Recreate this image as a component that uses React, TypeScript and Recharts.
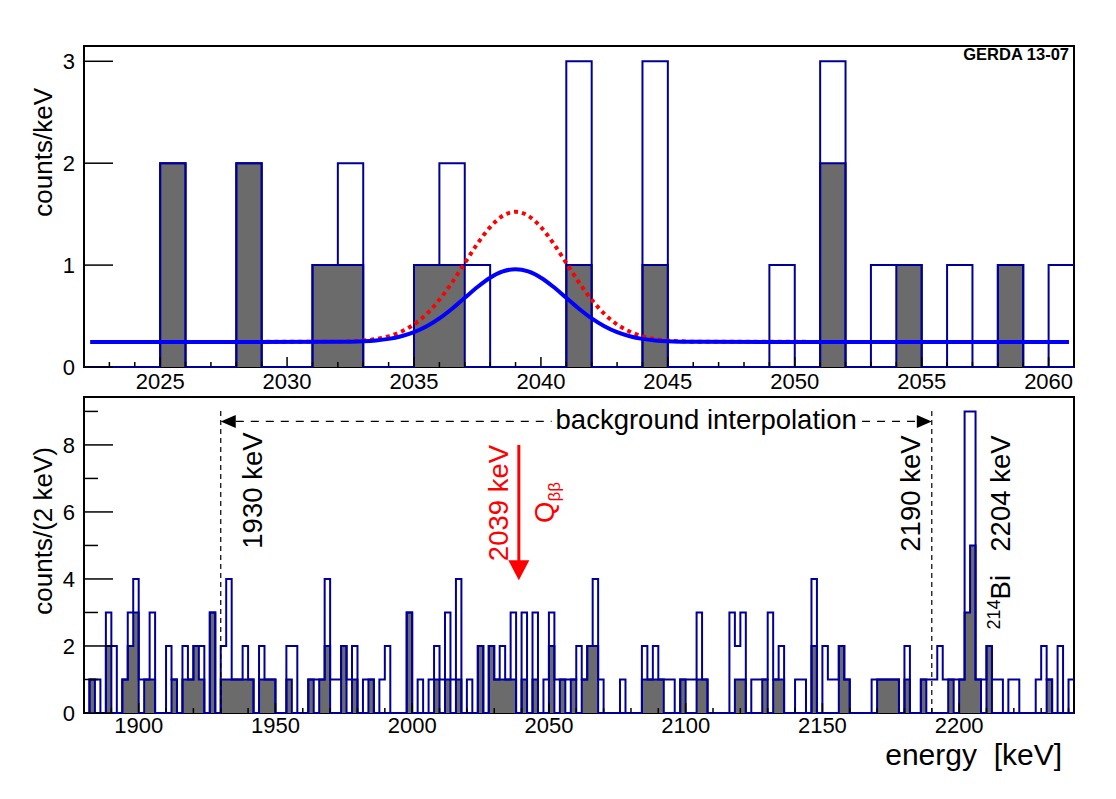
import React from 'react';
import {
  ComposedChart,
  Line,
  Area,
  XAxis,
  YAxis,
  ReferenceArea,
  ReferenceLine,
  ReferenceDot,
} from 'recharts';

const FONT = '"Liberation Sans", Arial, Helvetica, sans-serif';
const NAVY = '#000099';
const GREY = '#6b6b6b';
const NOTE = 27.5;

// upper panel: 1 keV bins from 2022 keV
const zoomStart = 2022;
const zoomOpen = [
  0, 0, 0, 2, 0, 0, 2, 0, 0, 1, 2, 0, 0, 1, 2, 1, 0, 0, 0, 3,
  0, 0, 3, 0, 0, 0, 0, 1, 0, 3, 0, 1, 1, 0, 1, 0, 1, 0, 1,
];
const zoomFilled = [
  0, 0, 0, 2, 0, 0, 2, 0, 0, 1, 1, 0, 0, 1, 1, 0, 0, 0, 0, 1,
  0, 0, 1, 0, 0, 0, 0, 0, 0, 2, 0, 0, 1, 0, 0, 0, 1, 0, 0,
];

// fit curves
const curveX = [
  2022.25, 2032, 2032.5, 2033, 2033.5, 2034, 2034.5, 2035, 2035.5, 2036, 2036.5,
  2037, 2037.5, 2038, 2038.5, 2039, 2039.5, 2040, 2040.5, 2041, 2041.5, 2042,
  2042.5, 2043, 2043.5, 2044, 2044.5, 2045, 2045.5, 2046, 2060.8,
];
const fitY = [
  0.245, 0.247, 0.249, 0.253, 0.261, 0.276, 0.302, 0.342, 0.4, 0.477, 0.572,
  0.679, 0.785, 0.876, 0.938, 0.96, 0.938, 0.876, 0.785, 0.679, 0.572, 0.477,
  0.4, 0.342, 0.302, 0.276, 0.261, 0.253, 0.249, 0.247, 0.245,
];
const limitY = [
  0.245, 0.248, 0.252, 0.259, 0.274, 0.301, 0.347, 0.418, 0.521, 0.66, 0.83,
  1.02, 1.21, 1.373, 1.484, 1.523, 1.484, 1.373, 1.21, 1.02, 0.83, 0.66,
  0.521, 0.418, 0.347, 0.301, 0.274, 0.259, 0.252, 0.248, 0.245,
];

// lower panel: 2 keV bins from 1880 keV
const wideStart = 1880;
const wideOpen = [
  0, 1, 1, 0, 3, 2, 0, 1, 3, 4, 1, 1, 3, 0, 0, 2, 1, 0, 2, 1,
  2, 2, 0, 3, 0, 2, 4, 1, 1, 2, 1, 0, 2, 1, 1, 0, 0, 2, 2, 0,
  0, 1, 1, 1, 4, 1, 1, 2, 1, 2, 0, 1, 1, 0, 1, 2, 0, 0, 0, 3,
  0, 1, 0, 1, 2, 1, 3, 1, 4, 0, 1, 0, 2, 0, 2, 1, 2, 1, 3, 0,
  3, 0, 3, 0, 1, 3, 1, 1, 1, 1, 2, 1, 2, 4, 1, 0, 0, 0, 1, 0,
  0, 0, 2, 1, 2, 1, 1, 1, 0, 1, 1, 1, 3, 1, 0, 0, 0, 0, 3, 2,
  3, 0, 1, 1, 1, 3, 1, 2, 0, 0, 1, 1, 0, 4, 0, 2, 1, 1, 2, 1,
  0, 0, 0, 0, 1, 1, 1, 1, 1, 0, 2, 0, 0, 1, 1, 1, 2, 1, 1, 1,
  1, 9, 9, 1, 1, 2, 1, 1, 0, 1, 1, 0, 0, 0, 1, 2, 1, 0, 2, 0,
  1,
];
const wideFilled = [
  0, 1, 0, 0, 2, 0, 0, 1, 2, 3, 0, 1, 1, 0, 0, 0, 1, 0, 1, 1,
  2, 1, 0, 3, 0, 1, 1, 1, 1, 1, 1, 0, 1, 1, 1, 0, 0, 1, 0, 0,
  0, 1, 0, 1, 2, 0, 0, 2, 0, 1, 0, 0, 1, 0, 0, 0, 0, 0, 0, 3,
  0, 0, 0, 0, 1, 0, 1, 0, 1, 0, 0, 0, 2, 0, 2, 1, 1, 1, 1, 0,
  1, 0, 1, 0, 0, 2, 0, 1, 0, 1, 0, 1, 2, 2, 0, 0, 0, 0, 0, 0,
  0, 0, 1, 1, 1, 1, 0, 0, 0, 1, 0, 0, 1, 1, 0, 0, 0, 0, 0, 1,
  1, 0, 0, 0, 1, 0, 1, 1, 0, 0, 0, 0, 0, 2, 0, 0, 0, 0, 2, 1,
  0, 0, 0, 0, 0, 1, 1, 1, 1, 0, 1, 0, 0, 1, 0, 0, 0, 0, 1, 0,
  1, 3, 5, 1, 0, 2, 0, 0, 0, 0, 0, 0, 0, 0, 0, 0, 1, 0, 0, 0,
  0,
];

const zoomMajor = [2025, 2030, 2035, 2040, 2045, 2050, 2055, 2060];
const wideMajor = [1900, 1950, 2000, 2050, 2100, 2150, 2200];
const zoomYMajor = [0, 1, 2, 3];
const wideYMajor = [0, 2, 4, 6, 8];

const range = (a: number, b: number, step: number) => {
  const out: number[] = [];
  for (let v = a; v <= b; v += step) out.push(v);
  return out;
};

function histRows(start: number, width: number, open: number[], filled: number[]) {
  const rows = open.map((o, i) => ({ x: start + i * width, open: o, filled: filled[i] }));
  const n = open.length;
  rows.push({ x: start + n * width, open: open[n - 1], filled: filled[n - 1] });
  return rows;
}

const zoomRows = histRows(zoomStart, 1, zoomOpen, zoomFilled);
const wideRows = histRows(wideStart, 2, wideOpen, wideFilled);
const fitRows = curveX.map((x, i) => ({ x, y: fitY[i] }));
const limitRows = curveX.map((x, i) => ({ x, y: limitY[i] }));

// ROOT style ticks: drawn inwards, labels only on major ticks
const makeXTick = (majors: number[], majorLen: number, minorLen: number, gap: number) => (p: any) => {
  const v = p.payload.value;
  const major = majors.includes(v);
  return (
    <g>
      <line x1={p.x} x2={p.x} y1={p.y} y2={p.y - (major ? majorLen : minorLen)} stroke="#000" strokeWidth={1.5} />
      {major && (
        <text x={p.x} y={p.y + gap} textAnchor="middle" fontSize={22} fontFamily={FONT} fill="#000">
          {v}
        </text>
      )}
    </g>
  );
};

const makeYTick = (majors: number[], majorLen: number, minorLen: number) => (p: any) => {
  const v = p.payload.value;
  const major = majors.includes(v);
  return (
    <g>
      <line x1={p.x} x2={p.x + (major ? majorLen : minorLen)} y1={p.y} y2={p.y} stroke="#000" strokeWidth={1.5} />
      {major && (
        <text x={p.x - 9} y={p.y} dy="0.36em" textAnchor="end" fontSize={22} fontFamily={FONT} fill="#000">
          {v}
        </text>
      )}
    </g>
  );
};

const vText = (text: React.ReactNode, dx: number, dy: number, anchor: string, color = '#000', size = NOTE) =>
  (p: any) => (
    <text
      transform={`translate(${p.cx + dx},${p.cy + dy}) rotate(-90)`}
      textAnchor={anchor}
      fontSize={size}
      fontFamily={FONT}
      fill={color}
    >
      {text}
    </text>
  );

export default function App() {
  return (
    <div style={{ position: 'absolute', left: 0, top: 0, width: 1116, height: 799, background: '#fff' }}>
      <div style={{ position: 'absolute', left: 0, top: 0 }}>
        <ComposedChart width={1116} height={400} data={zoomRows} margin={{ top: 46, right: 42, left: 24, bottom: 3 }}>
          <XAxis
            type="number"
            dataKey="x"
            domain={[2022, 2061]}
            ticks={range(2022, 2061, 1)}
            interval={0}
            tick={makeXTick(zoomMajor, 10, 5, 22)}
            tickSize={0}
            tickMargin={0}
            tickLine={false}
            axisLine={false}
            height={30}
          />
          <YAxis
            type="number"
            domain={[0, 3.15]}
            ticks={zoomYMajor}
            interval={0}
            tick={makeYTick(zoomYMajor, 29, 15)}
            tickSize={0}
            tickMargin={0}
            tickLine={false}
            axisLine={false}
            width={60}
          />
          <ReferenceArea x1={2022} x2={2061} y1={0} y2={3.15} fill="none" fillOpacity={0} stroke="#000" strokeWidth={2} ifOverflow="visible" />
          <Area type="stepAfter" dataKey="filled" stroke={NAVY} strokeWidth={2} fill={GREY} fillOpacity={1} dot={false} activeDot={false} isAnimationActive={false} />
          <Line type="stepAfter" dataKey="open" stroke={NAVY} strokeWidth={2} dot={false} activeDot={false} isAnimationActive={false} />
          <Line data={limitRows} type="monotone" dataKey="y" stroke="#ff0000" strokeWidth={4} strokeDasharray="4 4" dot={false} activeDot={false} isAnimationActive={false} />
          <Line data={fitRows} type="monotone" dataKey="y" stroke="#0000ff" strokeWidth={4} dot={false} activeDot={false} isAnimationActive={false} />
          <ReferenceDot x={2022} y={3.15} ifOverflow="visible" shape={vText('counts/keV', -32, 42, 'end', '#000', 26)} />
          <ReferenceDot
            x={2061}
            y={3.15}
            ifOverflow="visible"
            shape={(p: any) => (
              <text x={p.cx - 5} y={p.cy + 14} textAnchor="end" fontSize={16.5} fontWeight="bold" fontFamily={FONT} fill="#000">
                GERDA 13-07
              </text>
            )}
          />
        </ComposedChart>
      </div>

      <div style={{ position: 'absolute', left: 0, top: 380 }}>
        <ComposedChart width={1116} height={419} data={wideRows} margin={{ top: 17, right: 42, left: 24, bottom: 56 }}>
          <XAxis
            type="number"
            dataKey="x"
            domain={[1880, 2242]}
            ticks={range(1880, 2240, 10)}
            interval={0}
            tick={makeXTick(wideMajor, 10, 5, 20)}
            tickSize={0}
            tickMargin={0}
            tickLine={false}
            axisLine={false}
            height={30}
          />
          <YAxis
            type="number"
            domain={[0, 9.43]}
            ticks={range(0, 9, 1)}
            interval={0}
            tick={makeYTick(wideYMajor, 29, 14)}
            tickSize={0}
            tickMargin={0}
            tickLine={false}
            axisLine={false}
            width={60}
          />
          <ReferenceArea x1={1880} x2={2242} y1={0} y2={9.43} fill="none" fillOpacity={0} stroke="#000" strokeWidth={2} ifOverflow="visible" />
          <Area type="stepAfter" dataKey="filled" stroke={NAVY} strokeWidth={2} fill={GREY} fillOpacity={1} dot={false} activeDot={false} isAnimationActive={false} />
          <Line type="stepAfter" dataKey="open" stroke={NAVY} strokeWidth={2} dot={false} activeDot={false} isAnimationActive={false} />

          {/* background window */}
          <ReferenceLine segment={[{ x: 1930, y: 0 }, { x: 1930, y: 9.1 }]} stroke="#000" strokeWidth={1.2} strokeDasharray="5 4" ifOverflow="visible" />
          <ReferenceLine segment={[{ x: 2190, y: 0 }, { x: 2190, y: 9.1 }]} stroke="#000" strokeWidth={1.2} strokeDasharray="5 4" ifOverflow="visible" />
          <ReferenceLine segment={[{ x: 1935.5, y: 8.7 }, { x: 2051, y: 8.7 }]} stroke="#000" strokeWidth={1.2} strokeDasharray="8 7" ifOverflow="visible" />
          <ReferenceLine segment={[{ x: 2164.5, y: 8.7 }, { x: 2184.5, y: 8.7 }]} stroke="#000" strokeWidth={1.2} strokeDasharray="8 7" ifOverflow="visible" />
          <ReferenceDot
            x={1930}
            y={8.7}
            ifOverflow="visible"
            shape={(p: any) => <polygon points={`${p.cx},${p.cy} ${p.cx + 15},${p.cy - 6.5} ${p.cx + 15},${p.cy + 6.5}`} fill="#000" />}
          />
          <ReferenceDot
            x={2190}
            y={8.7}
            ifOverflow="visible"
            shape={(p: any) => <polygon points={`${p.cx},${p.cy} ${p.cx - 15},${p.cy - 6.5} ${p.cx - 15},${p.cy + 6.5}`} fill="#000" />}
          />
          <ReferenceDot
            x={2107.5}
            y={8.7}
            ifOverflow="visible"
            shape={(p: any) => (
              <text x={p.cx} y={p.cy + 8} textAnchor="middle" fontSize={NOTE} fontFamily={FONT} fill="#000">
                background interpolation
              </text>
            )}
          />
          <ReferenceDot x={1930} y={8.7} ifOverflow="visible" shape={vText('1930 keV', 41, 11, 'end')} />
          <ReferenceDot x={2190} y={8.7} ifOverflow="visible" shape={vText('2190 keV', -12, 14, 'end')} />
          <ReferenceDot x={2204} y={8.7} ifOverflow="visible" shape={vText('2204 keV', 40, 14, 'end')} />
          <ReferenceDot
            x={2204}
            y={8.7}
            ifOverflow="visible"
            shape={vText(
              <>
                <tspan fontSize={18} dy={-10}>214</tspan>
                <tspan fontSize={NOTE} dy={10}>Bi</tspan>
              </>,
              40,
              208,
              'start',
            )}
          />

          {/* Q-value marker */}
          <ReferenceLine segment={[{ x: 2039, y: 8.0 }, { x: 2039, y: 4.5 }]} stroke="#ff0000" strokeWidth={3} ifOverflow="visible" />
          <ReferenceDot
            x={2039}
            y={3.96}
            ifOverflow="visible"
            shape={(p: any) => <polygon points={`${p.cx},${p.cy} ${p.cx - 10.5},${p.cy - 20} ${p.cx + 10.5},${p.cy - 20}`} fill="#ff0000" />}
          />
          <ReferenceDot x={2039} y={8.0} ifOverflow="visible" shape={vText('2039 keV', -11, 0, 'end', '#ff0000')} />
          <ReferenceDot
            x={2039}
            y={8.0}
            ifOverflow="visible"
            shape={vText(
              <>
                <tspan fontSize={NOTE}>Q</tspan>
                <tspan fontSize={17} dy={6}>ββ</tspan>
              </>,
              35,
              78,
              'start',
              '#ff0000',
            )}
          />

          <ReferenceDot x={1880} y={9.43} ifOverflow="visible" shape={vText('counts/(2 keV)', -32, 50, 'end', '#000', 26)} />
          <ReferenceDot
            x={2242}
            y={0}
            ifOverflow="visible"
            shape={(p: any) => (
              <text x={p.cx - 12} y={p.cy + 52} textAnchor="end" fontSize={30} fontFamily={FONT} fill="#000">
                {'energy\u00A0\u00A0[keV]'}
              </text>
            )}
          />
        </ComposedChart>
      </div>
    </div>
  );
}
